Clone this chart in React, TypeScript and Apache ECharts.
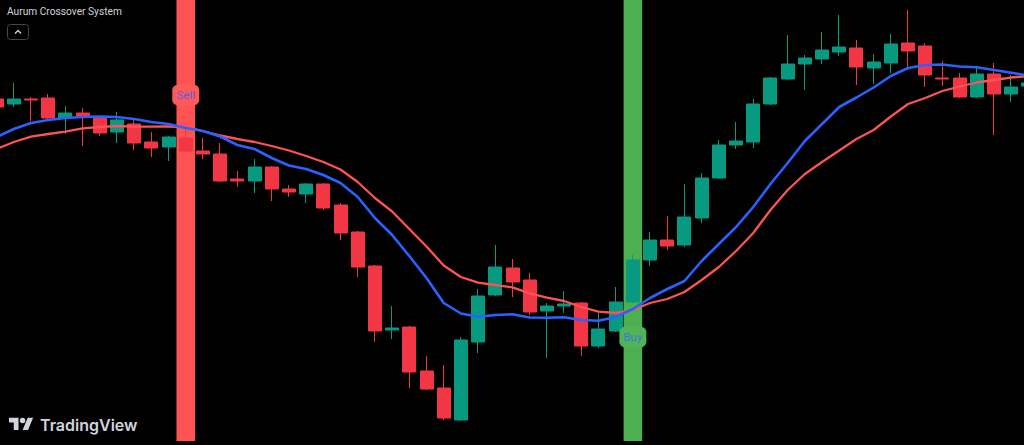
import React, { useEffect, useRef } from "react";
import * as echarts from "echarts";

// ---- Data ----
const categories: string[] = Array.from({ length: 61 }, (_, i) => `Bar ${i + 1}`);

// [open, close, low, high]
const candles: number[][] = [
  [2346, 2338, 2337, 2348],
  [2341, 2346, 2338, 2362],
  [2346, 2345, 2324, 2348],
  [2347, 2327, 2326, 2351],
  [2327, 2332, 2311, 2339],
  [2332, 2329, 2299, 2337],
  [2327, 2312, 2309, 2329],
  [2313, 2325, 2302, 2333],
  [2321, 2302, 2295, 2325],
  [2303, 2297, 2288, 2313],
  [2298, 2308, 2284, 2309],
  [2307, 2294, 2293, 2316],
  [2294, 2291, 2286, 2307],
  [2291, 2264, 2263, 2302],
  [2266, 2264, 2258, 2274],
  [2264, 2278, 2252, 2286],
  [2278, 2256, 2244, 2279],
  [2256, 2253, 2248, 2260],
  [2251, 2261, 2242, 2262],
  [2261, 2237, 2235, 2262],
  [2240, 2212, 2205, 2242],
  [2213, 2178, 2168, 2214],
  [2179, 2114, 2103, 2180],
  [2115, 2117, 2106, 2139],
  [2118, 2073, 2057, 2119],
  [2074, 2056, 2055, 2089],
  [2057, 2027, 2025, 2080],
  [2025, 2105, 2024, 2108],
  [2103, 2149, 2092, 2156],
  [2150, 2178, 2149, 2200],
  [2177, 2163, 2148, 2186],
  [2165, 2133, 2130, 2172],
  [2134, 2139, 2087, 2142],
  [2139, 2141, 2132, 2154],
  [2142, 2099, 2089, 2143],
  [2099, 2116, 2097, 2132],
  [2114, 2143, 2113, 2158],
  [2143, 2185, 2142, 2190],
  [2185, 2205, 2179, 2213],
  [2205, 2199, 2195, 2229],
  [2200, 2228, 2198, 2261],
  [2227, 2267, 2222, 2272],
  [2267, 2300, 2266, 2305],
  [2300, 2304, 2296, 2323],
  [2303, 2341, 2297, 2346],
  [2341, 2367, 2340, 2368],
  [2366, 2381, 2365, 2410],
  [2381, 2387, 2355, 2390],
  [2386, 2395, 2381, 2413],
  [2393, 2398, 2389, 2430],
  [2397, 2378, 2360, 2405],
  [2377, 2383, 2361, 2391],
  [2382, 2401, 2372, 2411],
  [2402, 2394, 2375, 2435],
  [2399, 2370, 2358, 2402],
  [2367, 2366, 2359, 2384],
  [2367, 2348, 2347, 2372],
  [2348, 2371, 2347, 2377],
  [2371, 2351, 2310, 2382],
  [2351, 2358, 2343, 2370],
  [2359, 2362, 2357, 2365],
];

const fastMA: number[] = [
  2308, 2316, 2322, 2325, 2327, 2328,
  2328.5, 2328, 2326, 2323, 2321,
  2317, 2314, 2308.5, 2300, 2296,
  2287, 2279.5, 2276, 2270, 2262,
  2248, 2227, 2210, 2189, 2167,
  2142, 2131.5, 2128.3, 2130, 2130.7,
  2127.5, 2127.3, 2127.7, 2125, 2124.3,
  2128, 2136, 2147, 2156, 2164,
  2184, 2201, 2218, 2238, 2261,
  2282, 2304, 2321, 2338, 2347.5,
  2357.5, 2369, 2377, 2380, 2380.5,
  2378.5, 2377.7, 2375, 2372.3, 2369.5,
];

const slowMA: number[] = [
  2296, 2303, 2308.3, 2311, 2313.3, 2316.7,
  2318, 2319, 2318.3, 2318.3, 2318.5,
  2318, 2314, 2309.5, 2306, 2303,
  2299, 2294.5, 2289, 2283, 2275.5,
  2263, 2247, 2233.5, 2216, 2198.5,
  2179.5, 2168, 2162.3, 2160, 2157.7,
  2151.7, 2147.3, 2144, 2138, 2133.3,
  2132, 2135, 2142, 2146, 2153,
  2165, 2178, 2194, 2212, 2235,
  2255, 2271, 2283, 2294.5, 2306,
  2315, 2328.5, 2341, 2347, 2354,
  2358.5, 2362.5, 2365, 2367.5, 2369,
];

const signalIndex: number[] = [11, 37];
const signalSide: string[] = ["Sell", "Buy"];
const signalLabelPrice: number[] = [2350, 2108];

const priceMin = 2000;
const priceMax = 2445;
const bandBottom = 2004;

const TITLE = "Aurum Crossover System";

const UP = "#089981";
const DOWN = "#F23645";
const SELL_BG = "#FF5252";
const BUY_BG = "#4CAF50";

// the chart canvas is slightly wider than the window so that partial candles show at both edges
const SHIFT = 12;
const CHART_W = 1049;

const TV_PATH =
  "M14 22H7V11H0V4h14v18zM28 22h-8l7.5-18h8L28 22zM16 8a4 4 0 1 0 8 0a4 4 0 1 0-8 0z";

let registered = false;
function registerShapes() {
  if (registered) return;
  registered = true;
  echarts.graphic.registerShape("tvlogo", echarts.graphic.extendPath(TV_PATH, {}) as any);
}

export default function App() {
  const ref = useRef<HTMLDivElement>(null);

  useEffect(() => {
    if (!ref.current) return;
    registerShapes();
    const chart = echarts.init(ref.current, undefined, { renderer: "svg" });

    const bandData = signalIndex.map((idx, i) => [idx, priceMax, bandBottom, i]);
    const labelData = signalIndex.map((idx, i) => ({
      value: [idx, signalLabelPrice[i]],
      itemStyle: { color: signalSide[i] === "Sell" ? "#ff5a5a" : "#52b356", opacity: 1 },
      label: {
        formatter: signalSide[i],
        color: signalSide[i] === "Sell" ? "#5a5fe0" : "#3a78e0",
      },
    }));

    chart.setOption({
      animation: false,
      backgroundColor: "#000000",
      title: {
        text: TITLE,
        left: 7 + SHIFT,
        top: 6,
        padding: 0,
        textStyle: {
          color: "#d1d4dc",
          fontSize: 10.2,
          fontWeight: "normal",
          fontFamily: "Roboto, 'Noto Sans', sans-serif",
        },
      },
      grid: { left: 0, right: 0, top: 0, bottom: 0, containLabel: false },
      xAxis: {
        type: "category",
        data: categories,
        boundaryGap: true,
        show: false,
      },
      yAxis: {
        type: "value",
        min: priceMin,
        max: priceMax,
        show: false,
        splitLine: { show: false },
      },
      series: [
        {
          type: "custom",
          name: "Signal bands",
          z: 1,
          silent: true,
          clip: false,
          data: bandData,
          renderItem: (params: any, api: any) => {
            const idx = api.value(0);
            const top = api.coord([idx, api.value(1)]);
            const bottom = api.coord([idx, api.value(2)]);
            const w = api.size([1, 0])[0] * 1.08;
            const i = api.value(3);
            return {
              type: "rect",
              shape: { x: top[0] - w / 2, y: top[1], width: w, height: bottom[1] - top[1] },
              style: { fill: signalSide[i] === "Sell" ? SELL_BG : BUY_BG },
            };
          },
        },
        {
          type: "candlestick",
          name: "XAUUSD",
          z: 2,
          barWidth: 13.5,
          data: candles,
          itemStyle: {
            color: UP,
            color0: DOWN,
            borderColor: UP,
            borderColor0: DOWN,
            borderWidth: 1,
          },
        },
        {
          type: "line",
          name: "Slow MA",
          z: 3,
          data: slowMA,
          symbol: "none",
          lineStyle: { color: "#FF5252", width: 2.3 },
        },
        {
          type: "line",
          name: "Fast MA",
          z: 4,
          data: fastMA,
          symbol: "none",
          lineStyle: { color: "#2962FF", width: 2.6 },
        },
        {
          type: "scatter",
          name: "Signals",
          z: 5,
          symbol: "roundRect",
          symbolSize: [27, 21],
          itemStyle: { opacity: 1 },
          data: labelData,
          label: {
            show: true,
            position: "inside",
            fontSize: 11.5,
            opacity: 1,
            fontFamily: "Roboto, 'Noto Sans', sans-serif",
          },
        },
      ],
      graphic: [
        {
          type: "rect",
          x: 7.5 + SHIFT,
          y: 24.5,
          shape: { width: 21, height: 15, r: 3 },
          style: { fill: "#000000", stroke: "#434651", lineWidth: 1 },
          z: 100,
        },
        {
          type: "polyline",
          shape: { points: [[15 + SHIFT, 33.5], [18 + SHIFT, 30.5], [21 + SHIFT, 33.5]] },
          style: { stroke: "#d1d4dc", lineWidth: 1.4, fill: "none" },
          z: 101,
        },
        {
          type: "tvlogo",
          x: 9 + SHIFT,
          y: 415,
          scaleX: 0.68,
          scaleY: 0.68,
          style: { fill: "#d1d4dc" },
          z: 100,
        },
        {
          type: "text",
          x: 40 + SHIFT,
          y: 425,
          style: {
            text: "TradingView",
            fill: "#d1d4dc",
            font: "600 16px Inter, Roboto, sans-serif",
            verticalAlign: "middle",
          },
          z: 100,
        },
      ],
    });

    return () => chart.dispose();
  }, []);

  return (
    <div
      ref={ref}
      style={{ position: "fixed", left: -SHIFT, top: 0, width: CHART_W, height: 445, background: "#000" }}
    />
  );
}
